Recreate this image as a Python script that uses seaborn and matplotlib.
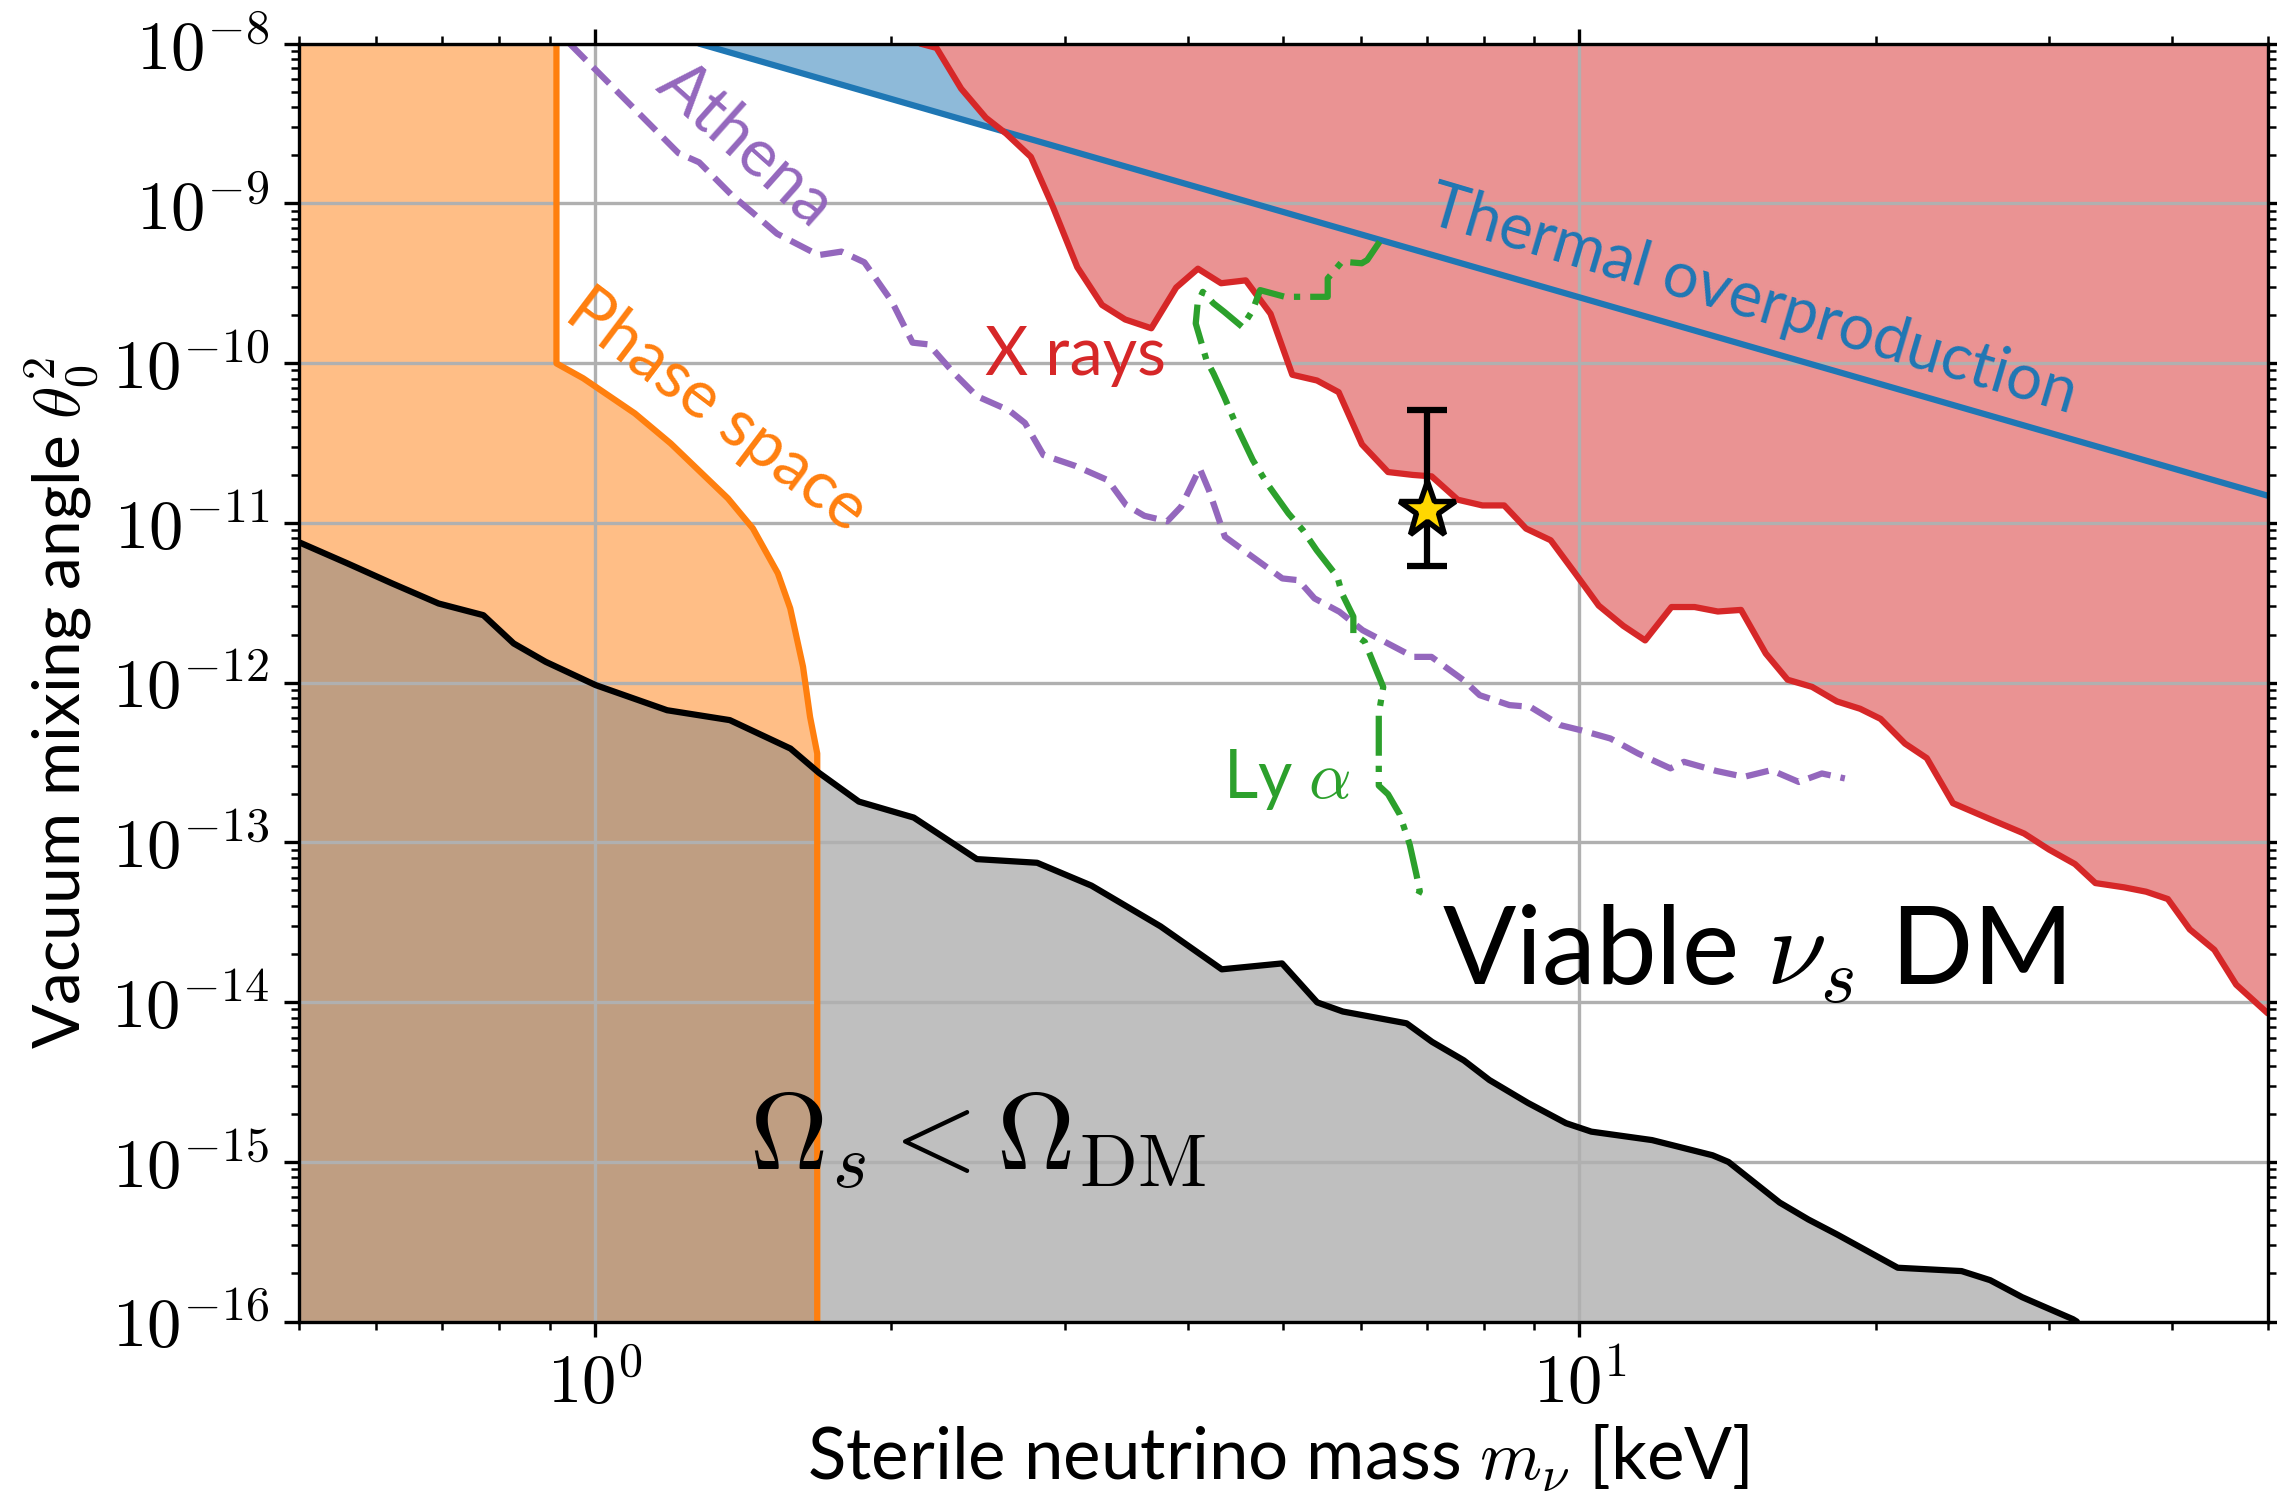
import numpy as np
import matplotlib
matplotlib.use("Agg")
import matplotlib.pyplot as plt
import seaborn as sns
from matplotlib.ticker import LogLocator, NullFormatter, FuncFormatter

# ---------------- data (mass in keV, log10 of theta_0^2) ----------------
xray_m = [2.141, 2.223, 2.355, 2.495, 2.617, 2.772, 2.917, 3.090, 3.274, 3.456, 3.674,
          3.894, 4.097, 4.325, 4.582, 4.855, 5.109, 5.413, 5.694, 6.013, 6.391, 6.771,
          7.077, 7.522, 7.969, 8.385, 8.826, 9.349, 9.906, 10.46, 11.08, 11.66, 12.40,
          13.09, 13.82, 14.59, 15.46, 16.27, 17.23, 18.26, 19.28, 20.22, 21.41, 22.53,
          23.95, 25.90, 28.29, 29.98, 31.86, 33.42, 35.76, 37.63, 39.59, 41.67, 44.14,
          46.45, 50.0]
xray_logt = [-8.0, -8.027, -8.282, -8.464, -8.564, -8.709, -9.018, -9.400, -9.636, -9.727,
             -9.782, -9.527, -9.409, -9.500, -9.482, -9.691, -10.073, -10.109, -10.182,
             -10.509, -10.682, -10.700, -10.709, -10.855, -10.891, -10.891, -11.036,
             -11.109, -11.318, -11.518, -11.645, -11.736, -11.527, -11.527, -11.555,
             -11.545, -11.818, -11.982, -12.027, -12.118, -12.164, -12.227, -12.382,
             -12.473, -12.755, -12.845, -12.945, -13.045, -13.136, -13.255, -13.282,
             -13.309, -13.355, -13.545, -13.673, -13.891, -14.07]

thermal_m = [1.276, 50.0]
thermal_logt = [-8.0, -10.83]

phase_m = [0.914, 0.914, 0.973, 1.098, 1.194, 1.365, 1.447, 1.534, 1.579, 1.627, 1.654,
           1.682, 1.682]
phase_logt = [-8.0, -10.002, -10.095, -10.315, -10.503, -10.847, -11.035, -11.316,
              -11.535, -11.901, -12.215, -12.444, -16.0]

omega_m = [0.5, 0.5607, 0.6223, 0.6939, 0.7704, 0.8270, 0.8913, 1.002, 1.184, 1.371,
           1.580, 1.688, 1.854, 2.108, 2.443, 2.813, 3.194, 3.754, 4.332, 4.988, 5.415,
           5.749, 6.674, 7.084, 7.630, 8.101, 8.863, 9.689, 10.28, 11.85, 13.65, 14.17,
           15.97, 17.08, 18.27, 21.05, 24.44, 26.13, 28.15, 31.71, 32.0]
omega_logt = [-11.12, -11.254, -11.379, -11.505, -11.578, -11.755, -11.870, -12.016,
              -12.173, -12.235, -12.413, -12.564, -12.745, -12.845, -13.105, -13.128,
              -13.271, -13.526, -13.795, -13.758, -14.002, -14.059, -14.133, -14.249,
              -14.365, -14.488, -14.631, -14.758, -14.811, -14.864, -14.959, -15.001,
              -15.255, -15.361, -15.455, -15.663, -15.684, -15.741, -15.847, -15.985,
              -16.0]

athena_m = [0.9426, 1.216, 1.276, 1.375, 1.451, 1.531, 1.687, 1.780, 1.878, 2.003, 2.102,
            2.183, 2.315, 2.443, 2.634, 2.734, 2.855, 3.077, 3.319, 3.464, 3.615, 3.814,
            3.939, 4.114, 4.203, 4.364, 4.655, 4.991, 5.182, 5.381, 5.705, 6.022, 6.782,
            7.074, 7.626, 7.919, 8.489, 8.913, 9.556, 10.03, 10.75, 11.47, 12.37, 12.77,
            13.77, 14.69, 15.66, 16.70, 17.63, 18.60]
athena_logt = [-8.0, -8.686, -8.743, -8.944, -9.066, -9.190, -9.324, -9.302, -9.369,
               -9.615, -9.872, -9.883, -10.062, -10.207, -10.296, -10.375, -10.576,
               -10.644, -10.733, -10.889, -10.956, -10.990, -10.899, -10.659, -10.795,
               -11.087, -11.213, -11.348, -11.359, -11.473, -11.557, -11.672, -11.839,
               -11.839, -11.985, -12.079, -12.141, -12.152, -12.266, -12.298, -12.350,
               -12.444, -12.537, -12.496, -12.553, -12.590, -12.548, -12.622, -12.569,
               -12.600]

lya_m = [6.266, 6.087, 6.010, 5.738, 5.550, 5.550, 5.022, 4.738, 4.658, 4.544, 4.357,
         4.249, 4.144, 4.094, 4.076, 4.180, 4.249, 4.357, 4.505, 4.658, 4.815, 5.063,
         5.236, 5.408, 5.677, 5.738, 5.893, 5.893, 6.053, 6.220, 6.320, 6.254, 6.254,
         6.254, 6.391, 6.568, 6.724, 6.830, 6.884, 6.802]
lya_logt = [-9.240, -9.355, -9.375, -9.365, -9.470, -9.585, -9.585, -9.543, -9.668,
            -9.773, -9.679, -9.626, -9.554, -9.626, -9.752, -9.982, -10.065, -10.211,
            -10.420, -10.607, -10.753, -10.941, -11.045, -11.171, -11.338, -11.442,
            -11.587, -11.693, -11.745, -11.924, -12.028, -12.195, -12.509, -12.645,
            -12.699, -12.825, -13.015, -13.203, -13.307, -13.369]

star_m = [7.0]
star_theta = [1.2e-11]
star_lo = [5.4e-12]
star_hi = [5.1e-11]

x_limits = (0.5, 50.0)
y_limits = (1e-16, 1e-8)

# ---------------- style ----------------
sns.set_style("ticks")
plt.rcParams["font.family"] = ["Lato", "DejaVu Sans"]
plt.rcParams["mathtext.fontset"] = "cm"
plt.rcParams.update({
    "axes.edgecolor": "black", "text.color": "black", "axes.labelcolor": "black",
    "xtick.color": "black", "ytick.color": "black",
    "xtick.direction": "out", "ytick.direction": "out",
    "xtick.major.size": 3.5, "ytick.major.size": 3.5,
    "xtick.minor.size": 2.0, "ytick.minor.size": 2.0,
    "xtick.major.width": 0.8, "ytick.major.width": 0.8,
    "xtick.minor.width": 0.6, "ytick.minor.width": 0.6,
    "axes.linewidth": 0.8,
})

fig = plt.figure(figsize=(2277 / 300, 1504 / 300), dpi=300)
ax = fig.add_axes([0.1311, 0.1213, 0.8648, 0.8497])
ax.set_xscale("log")
ax.set_yscale("log")

tp = lambda a: 10.0 ** np.asarray(a)

# fills
ax.fill_between(thermal_m, tp(thermal_logt), y_limits[1], color="tab:blue", alpha=0.5,
                lw=0, zorder=1)
ax.fill_between(xray_m, tp(xray_logt), y_limits[1], color="#EA9393", lw=0, zorder=1)
ax.fill_betweenx(tp(phase_logt), x_limits[0], phase_m, color="tab:orange", alpha=0.5,
                 lw=0, zorder=1)
ax.fill_between(omega_m, y_limits[0], tp(omega_logt), color="gray", alpha=0.5, lw=0,
                zorder=1)

# lines
common = dict(ax=ax, sort=False, estimator=None, lw=1.5, zorder=2)
sns.lineplot(x=thermal_m, y=tp(thermal_logt), color="tab:blue", **common)
sns.lineplot(x=xray_m, y=tp(xray_logt), color="tab:red", **common)
sns.lineplot(x=phase_m, y=tp(phase_logt), color="tab:orange", **common)
sns.lineplot(x=omega_m, y=tp(omega_logt), color="black", **common)
sns.lineplot(x=athena_m, y=tp(athena_logt), color="tab:purple", linestyle="--", **common)
sns.lineplot(x=lya_m, y=tp(lya_logt), color="tab:green", linestyle="-.", **common)

# star with error bar
yerr = [[star_theta[0] - star_lo[0]], [star_hi[0] - star_theta[0]]]
ax.errorbar(star_m, star_theta, yerr=yerr, fmt="none", ecolor="black", elinewidth=1.5,
            capsize=4.7, capthick=1.5, zorder=4)
ax.plot(star_m, star_theta, marker="*", ms=14, mfc="gold", mec="black", mew=1.3,
        ls="none", zorder=5)

# axes setup
ax.set_xlim(*x_limits)
ax.set_ylim(*y_limits)
ax.set_axisbelow("line")
ax.grid(True, which="major", color="#b0b0b0", lw=0.8)
pow_fmt = FuncFormatter(lambda v, p: r"$10^{%d}$" % int(np.round(np.log10(v))))
ax.yaxis.set_major_locator(LogLocator(base=10, numticks=20))
ax.yaxis.set_minor_locator(LogLocator(base=10, subs=np.arange(2, 10), numticks=100))
ax.xaxis.set_minor_locator(LogLocator(base=10, subs=np.arange(2, 10), numticks=100))
ax.xaxis.set_major_formatter(pow_fmt)
ax.yaxis.set_major_formatter(pow_fmt)
ax.xaxis.set_minor_formatter(NullFormatter())
ax.yaxis.set_minor_formatter(NullFormatter())
ax.tick_params(which="both", top=True, right=True, labelsize=16.5)
for s in ax.spines.values():
    s.set_visible(True)
    s.set_color("black")

ax.set_xlabel(r"Sterile neutrino mass $m_\nu$ [keV]", fontsize=17)
ax.xaxis.set_label_coords(0.4975, -0.079)
ax.set_ylabel(r"Vacuum mixing angle $\theta_0^2$", fontsize=15.8)
ax.yaxis.set_label_coords(-0.100, 0.484)

# annotations
tk = dict(ha="center", va="center", rotation_mode="anchor", zorder=3)
ax.text(1.424, 10 ** -8.636, "Athena", color="tab:purple", fontsize=16, rotation=-41.7, **tk)
ax.text(1.33, 10 ** -10.30, "Phase space", color="tab:orange", fontsize=16, rotation=-37, **tk)
ax.text(3.08, 10 ** -9.955, "X rays", color="tab:red", fontsize=16, **tk)
ax.text(15.0, 10 ** -9.61, "Thermal overproduction", color="tab:blue", fontsize=15.2,
        rotation=-16.5, **tk)
ax.text(5.04, 10 ** -12.609, r"Ly $\alpha$", color="tab:green", fontsize=16, **tk)
ax.text(15.04, 10 ** -13.70, r"Viable $\nu_s$ DM", color="black", fontsize=26, **tk)
ax.text(2.445, 10 ** -14.864, r"$\Omega_s < \Omega_{\rm DM}$", color="black", fontsize=26, **tk)

fig.savefig("out.png", dpi=300)
